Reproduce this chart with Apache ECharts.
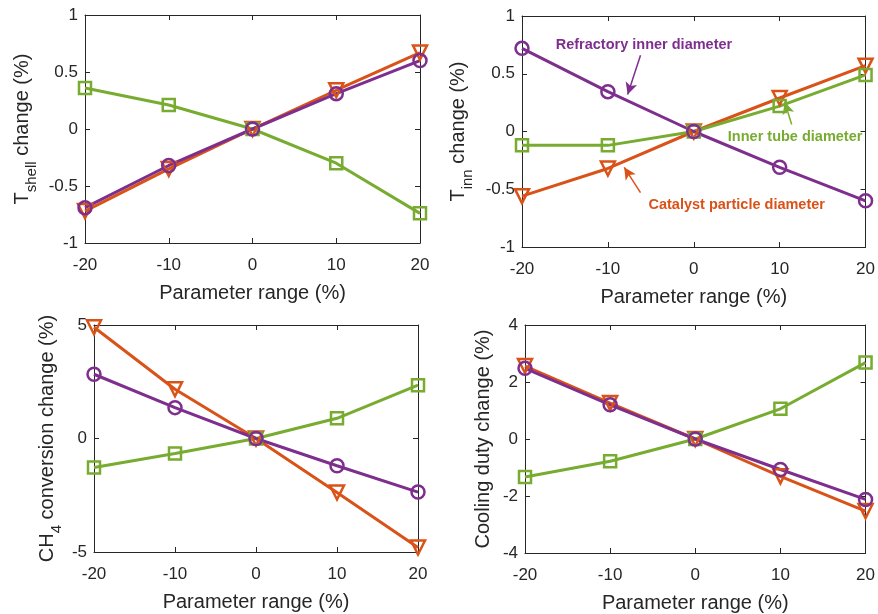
<!DOCTYPE html>
<html>
<head>
<meta charset="utf-8">
<script src="https://cdn.jsdelivr.net/npm/echarts@6/dist/echarts.min.js"></script>
<style>
html,body{margin:0;padding:0;background:#fff;}
#c{width:878px;height:614px;}
</style>
</head>
<body>
<div id="c"></div>
<script>
// ---- data ----
const paramRange = [-20, -10, 0, 10, 20];

const shellCatalyst   = [-0.72, -0.35, 0, 0.34, 0.67];
const shellRefractory = [-0.69, -0.32, 0, 0.31, 0.60];
const shellInnerTube  = [0.36, 0.21, 0, -0.30, -0.74];

const innCatalyst   = [-0.56, -0.32, 0, 0.29, 0.57];
const innRefractory = [0.72, 0.345, 0, -0.31, -0.60];
const innInnerTube  = [-0.12, -0.12, 0, 0.22, 0.49];

const ch4Catalyst   = [4.9, 2.17, 0, -2.38, -4.8];
const ch4Refractory = [2.83, 1.36, 0, -1.2, -2.36];
const ch4InnerTube  = [-1.28, -0.66, 0, 0.89, 2.35];

const coolCatalyst   = [2.56, 1.26, 0, -1.31, -2.53];
const coolRefractory = [2.48, 1.2, 0, -1.07, -2.12];
const coolInnerTube  = [-1.33, -0.78, 0, 1.06, 2.68];

const xTicks = {min: -20, max: 20, interval: 10};
const yShellTicks = {min: -1, max: 1, interval: 0.5};
const yInnTicks = {min: -1, max: 1, interval: 0.5};
const yCh4Ticks = {min: -5, max: 5, interval: 5};
const yCoolTicks = {min: -4, max: 4, interval: 2};

const labelRefractory = 'Refractory inner diameter';
const labelInnerTube = 'Inner tube diameter';
const labelCatalyst = 'Catalyst particle diameter';

// ---- style ----
const ORANGE = '#D95319', PURPLE = '#7E2F8E', GREEN = '#77AC30';
const AX = '#262626';
const FONT = 'Liberation Sans, Arial, Helvetica, sans-serif';

const grids = [
  {left: 85, top: 15, width: 335, height: 228},
  {left: 522, top: 16, width: 346, height: 231},
  {left: 94, top: 325, width: 324, height: 227},
  {left: 525, top: 325, width: 344, height: 229}
];

const richName = {
  m: {fontSize: 20, fontFamily: FONT, color: AX, lineHeight: 24},
  s: {fontSize: 15, fontFamily: FONT, color: AX, lineHeight: 16, padding: [20, 0, 0, 0]}
};
const yNames = [
  '{m|T}{s|shell}{m| change (%)}',
  '{m|T}{s|inn}{m| change (%)}',
  '{m|CH}{s|4}{m| conversion change (%)}',
  '{m|Cooling duty change (%)}'
];
const yTickSets = [yShellTicks, yInnTicks, yCh4Ticks, yCoolTicks];
const yGaps = [51, 52, 35, 30];

const xAxes = [], yAxes = [], series = [];

grids.forEach((g, i) => {
  xAxes.push({
    type: 'value', gridIndex: i, position: 'bottom',
    min: xTicks.min, max: xTicks.max, interval: xTicks.interval,
    name: 'Parameter range (%)', nameLocation: 'middle', nameGap: 40,
    nameTextStyle: {fontSize: 20, color: AX, fontFamily: FONT},
    axisLine: {show: true, onZero: false, lineStyle: {color: AX, width: 1}},
    axisTick: {show: true, inside: true, length: 5, lineStyle: {color: AX}},
    axisLabel: {fontSize: 17, color: AX, fontFamily: FONT, margin: 14},
    splitLine: {show: false}
  });
  xAxes.push({
    type: 'value', gridIndex: i, position: 'top',
    min: xTicks.min, max: xTicks.max, interval: xTicks.interval,
    axisLine: {show: true, onZero: false, lineStyle: {color: AX, width: 1}},
    axisTick: {show: true, inside: true, length: 5, lineStyle: {color: AX}},
    axisLabel: {show: false}, splitLine: {show: false}
  });
  const yt = yTickSets[i];
  yAxes.push({
    type: 'value', gridIndex: i, position: 'left',
    min: yt.min, max: yt.max, interval: yt.interval,
    name: yNames[i], nameLocation: 'middle', nameGap: yGaps[i], nameRotate: 90,
    nameTextStyle: {fontSize: 20, color: AX, fontFamily: FONT, rich: richName},
    axisLine: {show: true, onZero: false, lineStyle: {color: AX, width: 1}},
    axisTick: {show: true, inside: true, length: 5, lineStyle: {color: AX}},
    axisLabel: {fontSize: 17, color: AX, fontFamily: FONT, margin: 7},
    splitLine: {show: false}
  });
  yAxes.push({
    type: 'value', gridIndex: i, position: 'right',
    min: yt.min, max: yt.max, interval: yt.interval,
    axisLine: {show: true, onZero: false, lineStyle: {color: AX, width: 1}},
    axisTick: {show: true, inside: true, length: 5, lineStyle: {color: AX}},
    axisLabel: {show: false}, splitLine: {show: false}
  });
});

function pairs(ys) { return paramRange.map((x, k) => [x, ys[k]]); }

function line(i, name, ys, color, symbol, rotate, size, extra) {
  const s = {
    type: 'line', name: name,
    xAxisIndex: i * 2, yAxisIndex: i * 2,
    data: pairs(ys),
    symbol: symbol, symbolSize: size, symbolRotate: rotate,
    showAllSymbol: true,
    lineStyle: {color: color, width: 3},
    itemStyle: {color: 'rgba(255,255,255,0)', borderColor: color, borderWidth: 2.5},
    emphasis: {disabled: true},
    z: 2
  };
  return Object.assign(s, extra || {});
}

const panels = [
  [shellCatalyst, shellInnerTube, shellRefractory],
  [innCatalyst, innInnerTube, innRefractory],
  [ch4Catalyst, ch4InnerTube, ch4Refractory],
  [coolCatalyst, coolInnerTube, coolRefractory]
];

function arrow(color, from, to) {
  return {
    silent: true, symbol: ['none', 'arrow'], symbolSize: [9, 12],
    lineStyle: {color: color, width: 1.5, type: 'solid'},
    label: {show: false},
    data: [[{coord: from}, {coord: to}]]
  };
}
function textMark(color, text, at) {
  return {
    silent: true, symbol: 'circle', symbolSize: 1,
    itemStyle: {color: 'rgba(0,0,0,0)'},
    label: {show: true, position: 'inside', formatter: text, color: color,
            fontWeight: 'bold', fontSize: 14.5, fontFamily: FONT},
    data: [{coord: at}]
  };
}

panels.forEach((p, i) => {
  let ex = [{}, {}, {}];
  if (i === 1) {
    ex[0] = {markLine: arrow(ORANGE, [-6.2, -0.53], [-8.1, -0.31]),
             markPoint: textMark(ORANGE, labelCatalyst, [5.0, -0.64])};
    ex[1] = {markLine: arrow(GREEN, [11.4, 0.06], [10.6, 0.255]),
             markPoint: textMark(GREEN, labelInnerTube, [11.8, -0.05])};
    ex[2] = {markLine: arrow(PURPLE, [-6.2, 0.66], [-7.7, 0.32]),
             markPoint: textMark(PURPLE, labelRefractory, [-5.8, 0.75])};
  }
  series.push(line(i, labelCatalyst, p[0], ORANGE, 'triangle', 180, 14, ex[0]));
  series.push(line(i, labelInnerTube, p[1], GREEN, 'rect', 0, 12, ex[1]));
  series.push(line(i, labelRefractory, p[2], PURPLE, 'circle', 0, 13, ex[2]));
});

const chart = echarts.init(document.getElementById('c'), null, {renderer: 'canvas'});
chart.setOption({
  animation: false,
  backgroundColor: '#fff',
  grid: grids,
  xAxis: xAxes,
  yAxis: yAxes,
  series: series
});
</script>
</body>
</html>
